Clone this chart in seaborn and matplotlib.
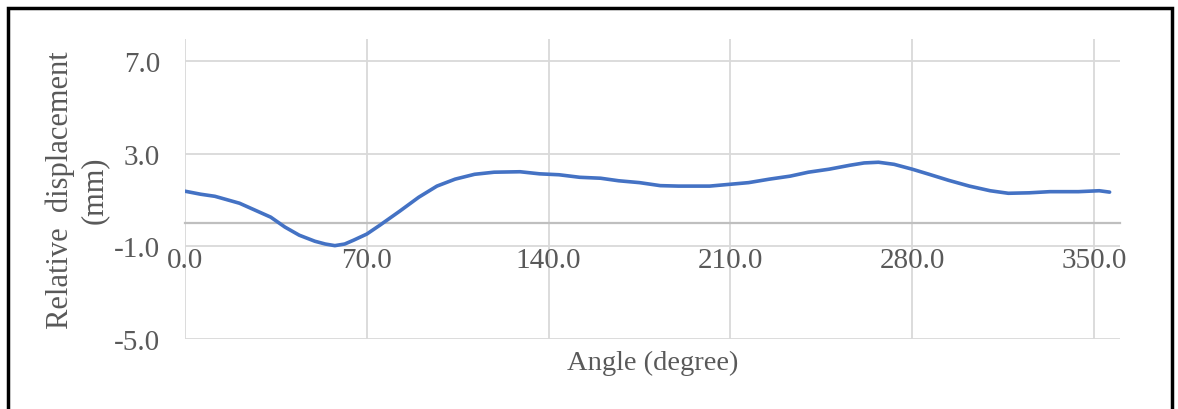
import matplotlib
matplotlib.use("Agg")
import matplotlib.pyplot as plt
import seaborn as sns
import pandas as pd
from matplotlib.patches import Rectangle

# Relative displacement around one revolution
angle_deg = [0, 6, 11.5, 21, 27, 33, 38.5, 44, 50, 54, 57.7, 61.5, 65, 70, 75, 82.7,
             90, 97, 104, 111.5, 119, 129, 136.5, 144, 152, 160, 167, 175, 183, 190,
             202, 210, 217, 225, 233, 240, 248, 256, 261.5, 267, 273, 280, 286.5,
             294, 302, 310, 317, 325, 333, 344, 352, 356]
displacement_mm = [1.38, 1.25, 1.16, 0.86, 0.56, 0.26, -0.17, -0.52, -0.78, -0.90, -0.97,
                   -0.90, -0.73, -0.47, -0.09, 0.52, 1.12, 1.60, 1.90, 2.11, 2.20, 2.22,
                   2.13, 2.09, 1.98, 1.94, 1.83, 1.75, 1.62, 1.60, 1.60, 1.68, 1.75, 1.90,
                   2.03, 2.20, 2.33, 2.50, 2.60, 2.63, 2.54, 2.33, 2.11, 1.85, 1.60, 1.40,
                   1.29, 1.31, 1.36, 1.36, 1.40, 1.34]

x_ticks = [0, 70, 140, 210, 280, 350]
y_ticks = [-5, -1, 3, 7]

df = pd.DataFrame({"angle": angle_deg, "disp": displacement_mm})

sns.set_theme(style="white")
plt.rcParams["font.family"] = ["Liberation Serif", "DejaVu Serif"]
text_color = "#595959"

fig = plt.figure(figsize=(11.78, 4.10), dpi=100)
ax = fig.add_axes([185 / 1178, 1 - 340 / 410, (1120 - 185) / 1178, 300 / 410])

sns.lineplot(data=df, x="angle", y="disp", ax=ax, color="#4472C4", linewidth=2.6)

ax.set_xlim(0, 360)
ax.set_ylim(-5, 7.95)
ax.set_xticks(x_ticks)
ax.set_yticks(y_ticks)
ax.set_xticklabels([f"{v:.1f}" for v in x_ticks])
ax.set_yticklabels([f"{v:.1f}" for v in y_ticks])

ax.grid(True, color="#d9d9d9", linewidth=1.3)
ax.set_axisbelow(True)
for side in ["top", "right", "left"]:
    ax.spines[side].set_visible(False)
ax.spines["bottom"].set_position(("data", 0))
ax.spines["bottom"].set_color("#bfbfbf")
ax.spines["bottom"].set_linewidth(1.6)
ax.spines["bottom"].set_zorder(1.5)

ax.tick_params(axis="x", length=0, pad=17, labelsize=21, labelcolor=text_color)
ax.tick_params(axis="y", length=0, pad=18, labelsize=21, labelcolor=text_color)

ax.set_xlabel("Angle (degree)", fontsize=20.5, color=text_color, va="center")
ax.xaxis.set_label_coords(0.5, -0.077)
ax.set_ylabel("Relative  displacement\n(mm)", fontsize=22, color=text_color,
              va="center", ha="center", linespacing=1.2)
ax.yaxis.set_label_coords(-0.1155, 0.5)

# Black frame around the chart
fig.patches.append(Rectangle((8 / 1178, -0.05), (1172 - 8) / 1178, 1.05 - 9 / 410,
                             transform=fig.transFigure, fill=False,
                             edgecolor="black", linewidth=2.5))

fig.savefig("out.png", dpi=100)
